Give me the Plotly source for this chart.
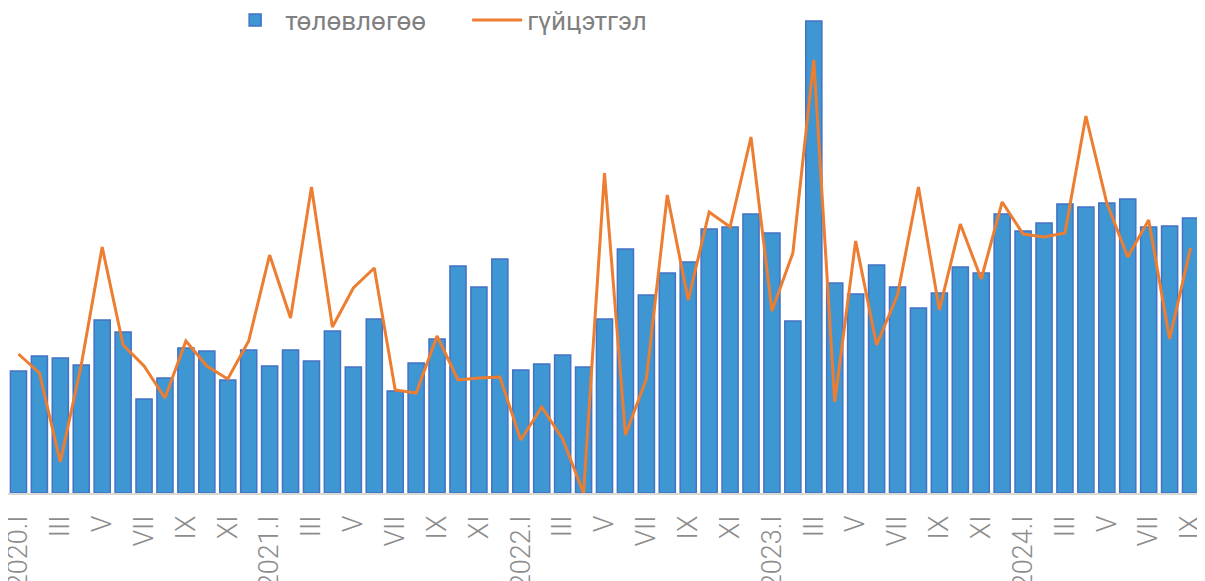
import plotly.graph_objects as go

roman = ["I", "II", "III", "IV", "V", "VI", "VII", "VIII", "IX", "X", "XI", "XII"]
years = [2020, 2021, 2022, 2023, 2024]
categories = [f"{y}.{m}" for y in years for m in roman][:57]
tick_labels = [c if c.endswith(".I") else c.split(".")[1] for c in categories]

plan = [30.5, 34.25, 33.75, 32, 43.25, 40.25, 23.5, 28.75, 36.25, 35.5, 28.25, 35.75,
        31.75, 35.75, 33, 40.5, 31.5, 43.5, 25.5, 32.5, 38.5, 56.75, 51.5, 58.5,
        30.75, 32.25, 34.5, 31.5, 43.5, 61, 49.5, 55, 57.75, 66, 66.5, 69.75,
        65, 43, 118, 52.5, 49.75, 57, 51.5, 46.25, 50, 56.5, 55, 69.75,
        65.5, 67.5, 72.25, 71.5, 72.5, 73.5, 66.5, 66.75, 68.75]

actual = [34.75, 30, 7.75, 32, 61.5, 37, 31.75, 23.75, 38, 31.75, 28.5, 38,
          59.5, 43.75, 76.5, 41.5, 51.25, 56.25, 25.75, 25, 39.25, 28.25, 28.75, 29,
          13.25, 21.5, 13.5, 0, 80, 14.5, 28.5, 74.5, 48.25, 70.25, 66.5, 89,
          45.5, 60, 108.25, 22.75, 63, 37, 49.5, 76.5, 45.75, 67.25, 53.5, 72.75,
          64.75, 64, 65, 94.25, 72.5, 59, 68.25, 38.5, 61.25]

fig = go.Figure()
fig.add_trace(go.Bar(
    x=categories, y=plan, name="төлөвлөгөө",
    marker=dict(color="#3E96D3", line=dict(color="#4472C4", width=1.5)),
))
fig.add_trace(go.Scatter(
    x=categories, y=actual, name="гүйцэтгэл", mode="lines",
    line=dict(color="#ED7D31", width=3), cliponaxis=False,
))

fig.update_layout(
    width=1205, height=581,
    margin=dict(l=0, r=12, t=5, b=96, autoexpand=False),
    paper_bgcolor="white", plot_bgcolor="white",
    bargap=0.23,
    font=dict(family="Roboto", color="#808080"),
    legend=dict(
        orientation="h", x=0.182, y=0.985, xanchor="left", yanchor="middle",
        font=dict(size=26, color="#808080"), bgcolor="rgba(0,0,0,0)",
        entrywidth=177, itemwidth=50,
    ),
    xaxis=dict(
        type="category", tickmode="array", automargin=False,
        tickvals=categories[::2], ticktext=tick_labels[::2],
        tickangle=-90, tickfont=dict(size=27, color="#8C8C8C", family="Roboto", weight=300),
        showline=True, linecolor="#D9D9D9", linewidth=1.5,
        ticks="outside", ticklen=10, tickcolor="rgba(0,0,0,0)",
        showgrid=False, zeroline=False,
    ),
    yaxis=dict(range=[0, 120], visible=False, showgrid=False, zeroline=False, automargin=False),
)

fig.write_html("out.html")
